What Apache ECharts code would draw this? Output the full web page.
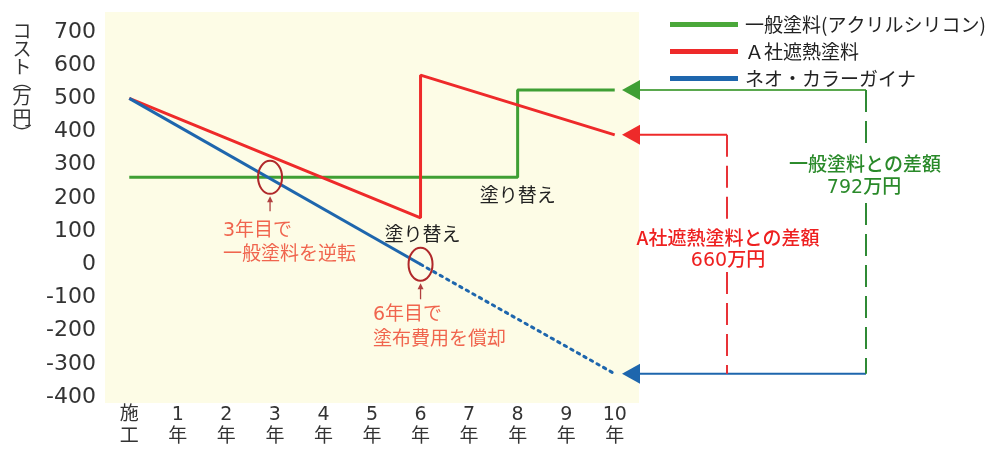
<!DOCTYPE html>
<html><head><meta charset="utf-8">
<script src="https://cdn.jsdelivr.net/npm/echarts@6/dist/echarts.min.js"></script>
<style>html,body{margin:0;padding:0;background:#fff}#c{width:993px;height:450px}</style>
</head><body><div id="c"></div>
<script>
// ---- data ----
const categories = ['施\n工','1\n年','2\n年','3\n年','4\n年','5\n年','6\n年','7\n年','8\n年','9\n年','10\n年'];
const seriesNames = ['一般塗料(アクリルシリコン)', 'Ａ社遮熱塗料', 'ネオ・カラーガイナ'];
const generalPaint = [[0, 262], [8, 262], [8, 525], [10, 525]];
const companyA = [[0, 500], [6, 140], [6, 570], [10, 390]];
const neoSolid = [[0, 500], [6, 0]];
const neoForecast = [[6, 0], [10, -330]];
const yMin = -400, yMax = 700, yStep = 100;
const yAxisName = ['コ','ス','ト','︵','万','円','︶'];
const crossPoint1 = [2.9, 262];
const crossPoint2 = [6, 0];
const note1 = ['3年目で', '一般塗料を逆転'];
const note2 = ['6年目で', '塗布費用を償却'];
const repaintLabel = '塗り替え';
const diffGeneral = ['一般塗料との差額', '792万円'];
const diffA = ['A社遮熱塗料との差額', '660万円'];

const FONT = '"Noto Sans CJK JP", "Noto Sans", sans-serif';
const NUMFONT = '"DejaVu Sans", "Noto Sans CJK JP", sans-serif';
const GREEN = '#3f9f34', RED = '#ee2a2a', BLUE = '#1e66ad';

const chart = echarts.init(document.getElementById('c'));
chart.setOption({
  animation: false,
  textStyle: { fontFamily: FONT },
  grid: { left: 105, right: 354, top: 32, bottom: 53 },
  legend: {
    data: seriesNames,
    orient: 'vertical', left: 665, top: 10, itemGap: 8,
    icon: 'rect', itemWidth: 68, itemHeight: 5,
    textStyle: { fontFamily: FONT, fontSize: 19, color: '#222', lineHeight: 19, padding: [0, 0, 0, 2] }
  },
  xAxis: {
    type: 'category', data: categories, boundaryGap: true,
    axisLine: { show: false }, axisTick: { show: false },
    axisLabel: { color: '#333', fontSize: 19, lineHeight: 22, margin: 7, fontFamily: NUMFONT }
  },
  yAxis: {
    type: 'value', min: yMin, max: yMax, interval: yStep,
    axisLine: { show: false }, axisTick: { show: false }, splitLine: { show: false },
    axisLabel: { color: '#333', fontSize: 22, margin: 9, fontFamily: NUMFONT }
  },
  series: [
    { name: seriesNames[0], type: 'line', data: generalPaint, symbol: 'none',
      lineStyle: { color: GREEN, width: 3 }, itemStyle: { color: '#4aa83a' } },
    { name: seriesNames[1], type: 'line', data: companyA, symbol: 'none',
      lineStyle: { color: RED, width: 3 }, itemStyle: { color: RED } },
    { name: seriesNames[2], type: 'line', data: neoSolid, symbol: 'none',
      lineStyle: { color: BLUE, width: 3 }, itemStyle: { color: BLUE } },
    { name: 'forecast', type: 'line', data: neoForecast, symbol: 'none',
      lineStyle: { color: BLUE, width: 3, type: [2.5, 5], cap: 'round' }, itemStyle: { color: BLUE } }
  ]
});

// ---- annotations positioned from data ----
const p0 = chart.convertToPixel({ gridIndex: 0 }, [0, 0]);
const p10 = chart.convertToPixel({ gridIndex: 0 }, [10, 0]);
const xAt = t => p0[0] + (p10[0] - p0[0]) * t / 10;
const yAt = v => chart.convertToPixel({ yAxisIndex: 0 }, v);

const g = [];
g.push({ type: 'rect', z: -1, silent: true, shape: { x: 105, y: 12, width: 534, height: 391 }, style: { fill: '#fdfce6' } });

// y-axis title vertical
const nameCenters = [31, 49, 67, 81, 97, 118, 134];
yAxisName.forEach((ch, i) => g.push({ type: 'text', x: 22, y: nameCenters[i], style: { text: ch, font: '19px ' + FONT, fill: '#333', align: 'center', verticalAlign: 'middle' } }));

// ellipses
function ellipse(cx, cy) {
  g.push({ type: 'ellipse', z: 5, shape: { cx, cy, rx: 12, ry: 16.5 }, style: { fill: null, stroke: '#b0282a', lineWidth: 2 } });
}
function upArrow(x, yTop, yBottom) {
  g.push({ type: 'line', z: 5, shape: { x1: x, y1: yTop + 4, x2: x, y2: yBottom }, style: { stroke: '#b04040', lineWidth: 1.3 } });
  g.push({ type: 'polygon', z: 5, shape: { points: [[x, yTop], [x - 3, yTop + 6], [x + 3, yTop + 6]] }, style: { fill: '#b04040' } });
}
const c1 = [xAt(crossPoint1[0]), yAt(crossPoint1[1])];
const c2 = [xAt(crossPoint2[0]), yAt(crossPoint2[1])];
ellipse(c1[0], c1[1]);
ellipse(c2[0], c2[1]);
upArrow(c1[0], c1[1] + 19, c1[1] + 34);
upArrow(c2[0], c2[1] + 19, c2[1] + 35);

function txt(x, y, s, color, size, align, weight, fam) {
  g.push({ type: 'text', z: 6, x, y, style: { text: s, font: (weight || 'normal') + ' ' + size + 'px ' + (fam || FONT), fill: color, align: align || 'left', verticalAlign: 'middle' } });
}
const SALMON = '#f0654e';
txt(223, 231, note1[0], SALMON, 19, 'left', 'normal', NUMFONT);
txt(223, 253, note1[1], SALMON, 19);
txt(373, 315, note2[0], SALMON, 19, 'left', 'normal', NUMFONT);
txt(373, 338, note2[1], SALMON, 19);
txt(xAt(6) - 36, 234, repaintLabel, '#222', 19);
txt(xAt(8) - 38, 195, repaintLabel, '#222', 19);

// right-side difference markers
const tipX = 622, baseX = 640, colG = 866, colR = 727;
const yG = yAt(generalPaint[generalPaint.length - 1][1]);
const yR = yAt(companyA[companyA.length - 1][1]);
const yB = yAt(neoForecast[neoForecast.length - 1][1]);
function arrowHead(y, color) {
  g.push({ type: 'polygon', z: 5, shape: { points: [[tipX, y], [baseX, y - 10], [baseX, y + 10]] }, style: { fill: color } });
}
function hline(x1, x2, y, color) {
  g.push({ type: 'line', z: 5, shape: { x1, y1: y, x2, y2: y }, style: { stroke: color, lineWidth: 2 } });
}
function vdash(x, y1, y2, color) {
  g.push({ type: 'line', z: 5, shape: { x1: x, y1, x2: x, y2 }, style: { stroke: color, lineWidth: 2, lineDash: [22, 9] } });
}
const DG = '#2f8a35', DR = '#e83238', DB = '#1e66ad';
arrowHead(yG, '#3f9f34'); hline(baseX, colG, yG, '#5aa84e');
arrowHead(yR, RED); hline(baseX, colR, yR, RED);
arrowHead(yB, DB); hline(baseX, colG, yB, DB);
vdash(colG, yG, 146, DG);
vdash(colG, 203, yB, DG);
vdash(colR, yR, 224, DR);
vdash(colR, 272, yB, DR);
txt(colG - 1, 164, diffGeneral[0], '#2a8a2a', 19, 'center', '500');
txt(colG - 2, 188, diffGeneral[1], '#2a8a2a', 19, 'center', '500', NUMFONT);
txt(728, 238, diffA[0], '#ee2020', 19, 'center', '500');
txt(728, 261, diffA[1], '#ee2020', 19, 'center', '500', NUMFONT);

chart.setOption({ graphic: { elements: g } });
</script></body></html>
